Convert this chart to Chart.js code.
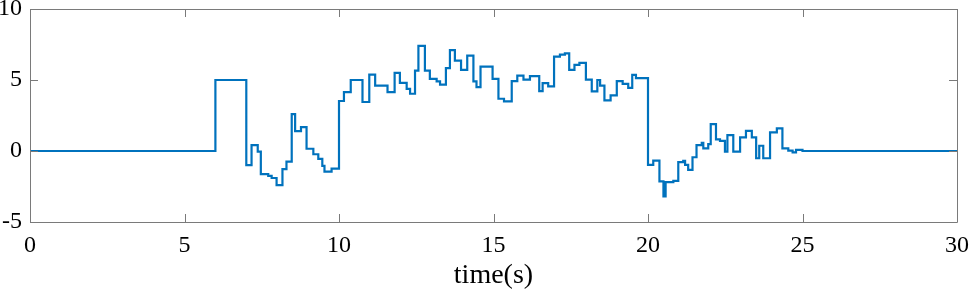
<!DOCTYPE html>
<html>
<head>
<meta charset="utf-8">
<script src="https://cdn.jsdelivr.net/npm/chart.js@4/dist/chart.umd.min.js"></script>
<style>
  html, body { margin: 0; padding: 0; background: #fff; }
  canvas { display: block; }
</style>
</head>
<body>
<canvas id="chart" width="969" height="291"></canvas>
<script>
// step times (s) and the value held from that time until the next one
const stepTimes = [0, 6, 7, 7.17, 7.37, 7.47, 7.71, 7.82, 7.98, 8.17, 8.3, 8.47, 8.58, 8.77, 8.95, 9.17, 9.33, 9.46, 9.53, 9.76,
  10, 10.16, 10.38, 10.76, 10.98, 11.17, 11.57, 11.8, 11.97, 12.19, 12.3, 12.46, 12.57, 12.78, 12.94, 13.16, 13.27, 13.46, 13.59, 13.75, 13.95,
  14.15, 14.35, 14.45, 14.58, 14.97, 15.16, 15.34, 15.59, 15.77, 15.97, 16.18, 16.48, 16.59, 16.77, 16.96, 17.15, 17.31, 17.45, 17.62, 17.78,
  17.99, 18.18, 18.36, 18.45, 18.59, 18.79, 18.99, 19.18, 19.36, 19.49, 19.61,
  20, 20.17, 20.37, 20.5, 20.57, 20.82, 20.98, 21.14, 21.2, 21.3, 21.44, 21.57, 21.74, 21.79, 21.95, 22.03, 22.2, 22.33, 22.49, 22.57, 22.76,
  22.98, 23.17, 23.36, 23.5, 23.6, 23.73, 23.95, 24.17, 24.35, 24.54, 24.68, 24.79, 25, 30];
const stepValues = [0, 5.0, -1.0, 0.42, -0.05, -1.63, -1.75, -1.9, -2.4, -1.28, -0.75, 2.59, 1.4, 1.68, 0.16, -0.23, -0.56, -1.05, -1.45, -1.24,
  3.52, 4.15, 5.0, 3.45, 5.38, 4.6, 4.15, 5.5, 4.8, 4.38, 4.03, 5.66, 7.41, 5.66, 5.08, 4.9, 4.68, 5.83, 7.11, 6.36, 5.71,
  6.71, 4.9, 4.5, 5.94, 5.08, 3.68, 3.5, 4.92, 5.31, 5.03, 5.27, 4.22, 4.78, 4.55, 6.64, 6.78, 6.87, 5.71, 6.06, 6.2,
  5.03, 4.2, 5.0, 4.6, 3.57, 3.92, 4.92, 4.73, 4.45, 5.36, 5.13,
  -0.98, -0.68, -2.14, -3.19, -2.19, -2.1, -0.79, -0.7, -0.98, -1.33, -0.44, 0.42, 0.58, 0.19, 0.49, 1.89, 0.82, 0.72, -0.05, 1.12, -0.05,
  0.96, 1.42, 0.96, -0.51, 0.37, -0.51, 1.31, 1.59, 0.19, 0.02, -0.1, 0.08, 0, 0];
const xTicks = [0, 5, 10, 15, 20, 25, 30];
const yTicks = [-5, 0, 5, 10];
const xLabel = 'time(s)';

const axisColor = '#7a7a7a';
const fontFamily = '"Liberation Serif", "Times New Roman", serif';

const points = stepTimes.map((t, i) => ({ x: t, y: stepValues[i] }));

// matlab style box with inward ticks on all four sides
const boxTicks = {
  id: 'boxTicks',
  afterDraw(chart) {
    const { ctx, chartArea: a, scales } = chart;
    const len = 8;
    ctx.save();
    ctx.strokeStyle = axisColor;
    ctx.lineWidth = 1;
    ctx.beginPath();
    ctx.rect(Math.round(a.left) + 0.5, Math.round(a.top) + 0.5, Math.round(a.right - a.left), Math.round(a.bottom - a.top));
    xTicks.forEach(v => {
      const px = Math.round(scales.x.getPixelForValue(v)) + 0.5;
      ctx.moveTo(px, a.bottom); ctx.lineTo(px, a.bottom - len);
      ctx.moveTo(px, a.top); ctx.lineTo(px, a.top + len);
    });
    yTicks.forEach(v => {
      const py = Math.round(scales.y.getPixelForValue(v)) + 0.5;
      ctx.moveTo(a.left, py); ctx.lineTo(a.left + len, py);
      ctx.moveTo(a.right, py); ctx.lineTo(a.right - len, py);
    });
    ctx.stroke();
    ctx.restore();
  }
};

new Chart(document.getElementById('chart'), {
  type: 'line',
  data: {
    datasets: [{
      data: points,
      borderColor: '#0072BD',
      borderWidth: 2.2,
      pointRadius: 0,
      stepped: 'before',
      fill: false
    }]
  },
  options: {
    responsive: false,
    animation: false,
    layout: { padding: { top: 9, right: 12, left: 0, bottom: 0 } },
    plugins: { legend: { display: false }, tooltip: { enabled: false } },
    scales: {
      x: {
        type: 'linear',
        min: 0, max: 30,
        afterBuildTicks: s => { s.ticks = xTicks.map(v => ({ value: v })); },
        afterFit: s => { s.height = 69; s.paddingLeft = 0; s.paddingRight = 0; },
        grid: { display: false, drawTicks: false },
        border: { display: false },
        ticks: { color: '#000', font: { family: fontFamily, size: 24 }, padding: 9, maxRotation: 0 },
        title: { display: true, text: xLabel, color: '#000', font: { family: fontFamily, size: 28, lineHeight: 1.1 }, padding: { top: 0, bottom: 0 } }
      },
      y: {
        min: -5, max: 10,
        afterBuildTicks: s => { s.ticks = yTicks.map(v => ({ value: v })); },
        afterFit: s => { s.width = 30; s.paddingTop = 0; s.paddingBottom = 0; },
        grid: { display: false, drawTicks: false },
        border: { display: false },
        ticks: { color: '#000', font: { family: fontFamily, size: 24 }, padding: 8 }
      }
    }
  },
  plugins: [boxTicks]
});
</script>
</body>
</html>
